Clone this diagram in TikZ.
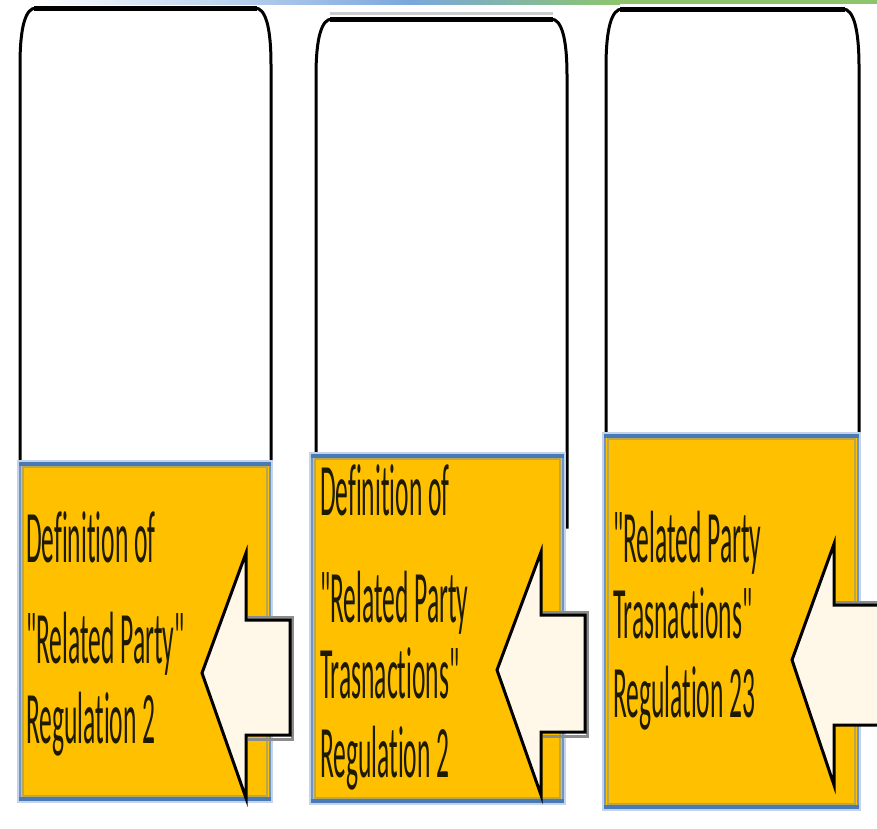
\documentclass[tikz,border=0pt]{standalone}
\usepackage{fontspec}
\newfontfamily\calib{Carlito}[Ligatures={TeXOff,CommonOff}]
\definecolor{gold}{HTML}{FFC000}
\definecolor{bandblue}{HTML}{4A7AB6}
\definecolor{glow}{HTML}{C3D4EA}
\definecolor{innerline}{HTML}{B9A650}
\definecolor{cream}{HTML}{FFF8E8}
\definecolor{txt}{HTML}{1E1A00}
\definecolor{gblue}{HTML}{7BA7DD}
\definecolor{ggreen}{HTML}{8CC56C}
\tikzset{
  panel/.style={draw=black, fill=white, line width=3pt},
  paneltop/.style={draw=black, line width=5pt},
  goldbox/.style={fill=gold, draw=bandblue!80!white, line width=2pt},
  band/.style={draw=bandblue, line width=4pt},
  glowbox/.style={draw=glow, line width=6pt},
  innerbox/.style={draw=innerline, line width=1.2pt},
  bigarrow/.style={fill=cream, draw=black, line width=3pt, line join=miter},
  arrowshadow/.style={draw=black!45, line width=3pt, line join=miter},
  lbl/.style={anchor=base west, inner sep=0pt, text=txt, xscale=0.345,
    font=\calib\fontsize{74}{74}\selectfont}
}
\begin{document}
\begin{tikzpicture}[x=1pt,y=-1pt]
\useasboundingbox (0,0) rectangle (877,828);
\clip (0,0) rectangle (877,828);
\fill[white] (0,0) rectangle (877,828);
% top gradient bar
\shade[left color=white, right color=gblue] (30,0) rectangle (410,4);
\shade[left color=gblue, right color=ggreen] (410,0) rectangle (620,4);
\fill[ggreen] (620,0) rectangle (877,4);
% white panels
\draw[panel] (20,513) -- (20,65) .. controls (20,25) and (26,8) .. (36,8)
  -- (255,8) .. controls (265,8) and (271,25) .. (271,65) -- (271,513) -- cycle;
\draw[paneltop] (34,8) -- (257,8);
\draw[black!20, line width=3pt] (330,13) -- (553,13);
\draw[panel] (316,527) -- (316,76) .. controls (316,36) and (322,19) .. (332,19)
  -- (551,19) .. controls (561,19) and (567,36) .. (567,76) -- (567,527) -- cycle;
\draw[paneltop] (330,19) -- (553,19);
\draw[panel] (606,500) -- (606,67) .. controls (606,27) and (612,9) .. (622,9)
  -- (843,9) .. controls (853,9) and (859,27) .. (859,67) -- (859,500) -- cycle;
\draw[paneltop] (620,9) -- (845,9);
% gold boxes
\draw[glowbox] (20,463) rectangle (270,800);
\draw[goldbox] (20,463) rectangle (270,800);
\draw[innerbox] (23,467) rectangle (267,796);
\draw[band] (19,464) -- (271,464) (19,799) -- (271,799);
\draw[glowbox] (312,455) rectangle (563,802);
\draw[goldbox] (312,455) rectangle (563,802);
\draw[innerbox] (315,459) rectangle (560,798);
\draw[band] (311,456) -- (564,456) (311,801) -- (564,801);
\draw[glowbox] (605,435) rectangle (858,808);
\draw[goldbox] (605,435) rectangle (858,808);
\draw[innerbox] (608,439) rectangle (855,804);
\draw[band] (604,436) -- (859,436) (604,807) -- (859,807);
% arrows
\draw[arrowshadow] (248,617) -- (292,617) -- (292,739) -- (248,739);
\draw[bigarrow] (202,673) -- (246,553) -- (246,620) -- (290,620) -- (290,735)
  -- (246,735) -- (246,798) -- cycle;
\draw[arrowshadow] (543,612) -- (587,612) -- (587,736) -- (543,736);
\draw[bigarrow] (497,670) -- (541,552) -- (541,615) -- (585,615) -- (585,732)
  -- (541,732) -- (541,795) -- cycle;
\draw[arrowshadow] (836,602) -- (900,602);
\draw[bigarrow] (792,660) -- (834,544) -- (834,605) -- (900,605) -- (900,725)
  -- (834,725) -- (834,785) -- cycle;
% texts
\node[lbl] (a1) at (26,562) {Definition of};
\node[lbl] (a2) at (26,663) {"Related Party"};
\node[lbl] (a3) at (26,743) {Regulation 2};
\node[lbl] (b1) at (320,515) {Definition of};
\node[lbl] (b2) at (320,622) {"Related Party};
\node[lbl] (b3) at (320,698) {Trasnactions"};
\node[lbl] (b4) at (320,777) {Regulation 2};
\node[lbl] (c1) at (613,562) {"Related Party};
\node[lbl] (c2) at (613,638) {Trasnactions"};
\node[lbl] (c3) at (613,717) {Regulation 23};
\end{tikzpicture}
\end{document}
